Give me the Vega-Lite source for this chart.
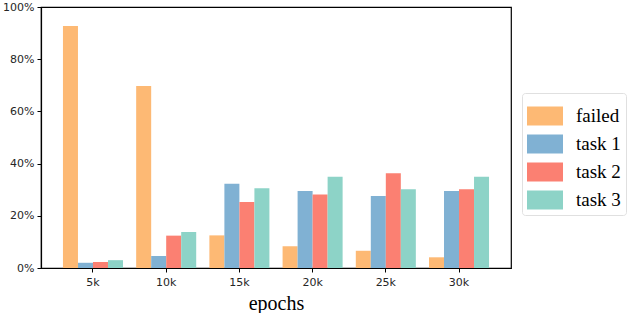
{
  "$schema": "https://vega.github.io/schema/vega-lite/v6.json",
  "width": 470,
  "height": 261,
  "autosize": {"type": "none"},
  "padding": {"left": 41, "top": 7, "right": 129, "bottom": 45},
  "background": "white",
  "config": {
    "view": {"stroke": "#000000", "strokeWidth": 1.2},
    "axis": {"grid": false}
  },
  "data": {
    "values": [
      {"epoch": "5k", "series": "failed", "value": 0.927},
      {"epoch": "5k", "series": "task 1", "value": 0.02},
      {"epoch": "5k", "series": "task 2", "value": 0.023},
      {"epoch": "5k", "series": "task 3", "value": 0.03},
      {"epoch": "10k", "series": "failed", "value": 0.697},
      {"epoch": "10k", "series": "task 1", "value": 0.046},
      {"epoch": "10k", "series": "task 2", "value": 0.124},
      {"epoch": "10k", "series": "task 3", "value": 0.138},
      {"epoch": "15k", "series": "failed", "value": 0.125},
      {"epoch": "15k", "series": "task 1", "value": 0.323},
      {"epoch": "15k", "series": "task 2", "value": 0.253},
      {"epoch": "15k", "series": "task 3", "value": 0.306},
      {"epoch": "20k", "series": "failed", "value": 0.083},
      {"epoch": "20k", "series": "task 1", "value": 0.295},
      {"epoch": "20k", "series": "task 2", "value": 0.282},
      {"epoch": "20k", "series": "task 3", "value": 0.35},
      {"epoch": "25k", "series": "failed", "value": 0.066},
      {"epoch": "25k", "series": "task 1", "value": 0.276},
      {"epoch": "25k", "series": "task 2", "value": 0.363},
      {"epoch": "25k", "series": "task 3", "value": 0.302},
      {"epoch": "30k", "series": "failed", "value": 0.041},
      {"epoch": "30k", "series": "task 1", "value": 0.295},
      {"epoch": "30k", "series": "task 2", "value": 0.302},
      {"epoch": "30k", "series": "task 3", "value": 0.35}
    ]
  },
  "mark": {"type": "bar"},
  "encoding": {
    "x": {
      "field": "epoch",
      "type": "nominal",
      "sort": ["5k", "10k", "15k", "20k", "25k", "30k"],
      "scale": {"paddingInner": 0.18, "paddingOuter": 0.3},
      "axis": {
        "title": "epochs",
        "titleFont": "Liberation Serif",
        "titleFontSize": 20,
        "titleFontWeight": "normal",
        "titleColor": "#000000",
        "titlePadding": 6,
        "labelAngle": 0,
        "labelFont": "DejaVu Sans",
        "labelFontSize": 11,
        "labelColor": "#262626",
        "labelPadding": 4,
        "tickColor": "#000000",
        "tickSize": 4,
        "domainColor": "#000000",
        "domainWidth": 1.2
      }
    },
    "xOffset": {
      "field": "series",
      "type": "nominal",
      "scale": {"paddingInner": 0, "paddingOuter": 0}
    },
    "y": {
      "field": "value",
      "type": "quantitative",
      "scale": {"domain": [0, 1], "nice": false},
      "axis": {
        "title": null,
        "format": ".0%",
        "values": [0, 0.2, 0.4, 0.6, 0.8, 1],
        "labelFont": "DejaVu Sans",
        "labelFontSize": 11,
        "labelColor": "#262626",
        "labelPadding": 3,
        "tickColor": "#000000",
        "tickSize": 4,
        "domainColor": "#000000",
        "domainWidth": 1.2
      }
    },
    "color": {
      "field": "series",
      "type": "nominal",
      "scale": {
        "domain": ["failed", "task 1", "task 2", "task 3"],
        "range": ["#FDB974", "#80B1D3", "#FB8072", "#8DD3C7"]
      },
      "legend": {
        "title": null,
        "orient": "none",
        "legendX": 481,
        "legendY": 86,
        "symbolType": "M-1,-0.53H1V0.53H-1Z",
        "symbolSize": 1296,
        "symbolStrokeWidth": 0,
        "symbolOpacity": 1,
        "labelFont": "Liberation Serif",
        "labelFontSize": 19,
        "labelColor": "#000000",
        "labelOffset": 13,
        "rowPadding": -4,
        "padding": 5,
        "strokeColor": "#e0e0e0",
        "cornerRadius": 3,
        "fillColor": "white"
      }
    }
  }
}
